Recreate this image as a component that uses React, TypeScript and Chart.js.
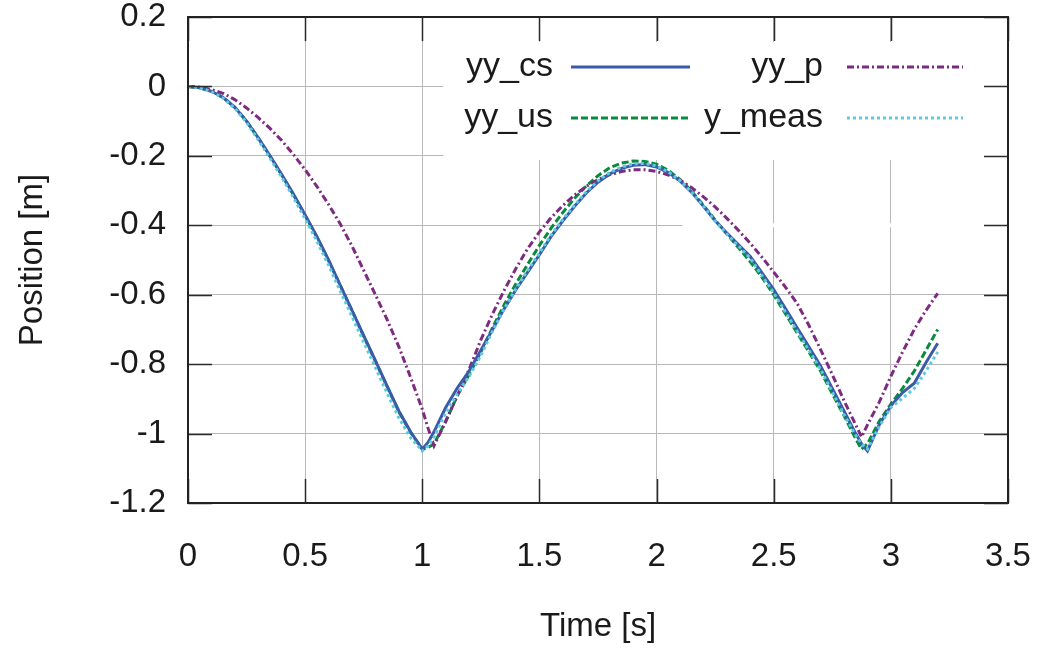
import React, { useEffect, useRef } from "react";
import { Chart, registerables } from "chart.js";

Chart.register(...registerables);

const times = [
  0, 0.05, 0.1, 0.15, 0.2, 0.25, 0.3, 0.35, 0.4, 0.45, 0.5, 0.55, 0.6, 0.65, 0.7, 0.75,
  0.8, 0.85, 0.9, 0.95, 1.0, 1.025, 1.05, 1.1, 1.15, 1.2, 1.25, 1.3, 1.35, 1.4, 1.45, 1.5,
  1.55, 1.6, 1.65, 1.7, 1.75, 1.8, 1.85, 1.9, 1.95, 2.0, 2.05, 2.1, 2.15, 2.2, 2.25, 2.3,
  2.35, 2.4, 2.45, 2.5, 2.55, 2.6, 2.65, 2.7, 2.75, 2.8, 2.85, 2.875, 2.9, 2.95, 3.0, 3.05,
  3.1, 3.15, 3.2,
];

const yyCs = [
  0, -0.004, -0.014, -0.032, -0.06, -0.1, -0.148, -0.2, -0.254, -0.31, -0.37, -0.432,
  -0.5, -0.573, -0.645, -0.718, -0.79, -0.863, -0.935, -0.995, -1.045, -1.025, -0.995,
  -0.925, -0.868, -0.82, -0.76, -0.7, -0.64, -0.585, -0.535, -0.485, -0.432, -0.387, -0.345,
  -0.307, -0.276, -0.252, -0.236, -0.227, -0.225, -0.232, -0.248, -0.272, -0.305, -0.345,
  -0.387, -0.422, -0.456, -0.49, -0.537, -0.585, -0.64, -0.695, -0.75, -0.805, -0.87,
  -0.935, -1.0, -1.03, -1.05, -0.975, -0.92, -0.882, -0.855, -0.795, -0.74,
];

const yyUs = [
  0, -0.004, -0.014, -0.032, -0.06, -0.1, -0.149, -0.201, -0.255, -0.312, -0.372, -0.434,
  -0.502, -0.574, -0.646, -0.72, -0.792, -0.865, -0.937, -0.997, -1.045, -1.04, -1.03,
  -0.965, -0.89, -0.83, -0.765, -0.695, -0.628, -0.568, -0.512, -0.458, -0.408, -0.363,
  -0.322, -0.287, -0.257, -0.234, -0.221, -0.215, -0.216, -0.224, -0.242, -0.268, -0.302,
  -0.342, -0.385, -0.425, -0.465, -0.505, -0.55, -0.6, -0.655, -0.71, -0.765, -0.82, -0.885,
  -0.948, -1.015, -1.045, -1.03, -0.965, -0.915, -0.87, -0.82, -0.76, -0.7,
];

const yyP = [
  0, -0.002, -0.009, -0.02, -0.038, -0.062, -0.09, -0.121, -0.156, -0.196, -0.24, -0.288,
  -0.34, -0.396, -0.46, -0.53, -0.6, -0.672, -0.75, -0.838, -0.93, -0.985, -1.035, -0.965,
  -0.89, -0.815, -0.73, -0.655, -0.587, -0.524, -0.467, -0.419, -0.378, -0.343, -0.313,
  -0.288, -0.268, -0.254, -0.245, -0.24, -0.24, -0.245, -0.255, -0.27, -0.292, -0.318,
  -0.347, -0.38, -0.415, -0.452, -0.492, -0.535, -0.578, -0.625, -0.688, -0.758, -0.83,
  -0.905, -0.975, -1.01, -0.975, -0.91, -0.835, -0.765, -0.7, -0.645, -0.596,
];

const yMeas = [
  0, -0.004, -0.015, -0.034, -0.063, -0.104, -0.154, -0.207, -0.262, -0.32, -0.382, -0.446,
  -0.515, -0.59, -0.663, -0.737, -0.81, -0.884, -0.955, -1.012, -1.05, -1.035, -1.01, -0.94,
  -0.885, -0.835, -0.775, -0.705, -0.64, -0.582, -0.53, -0.48, -0.428, -0.383, -0.342,
  -0.303, -0.272, -0.248, -0.232, -0.223, -0.222, -0.229, -0.246, -0.271, -0.305, -0.345,
  -0.388, -0.425, -0.46, -0.495, -0.545, -0.595, -0.65, -0.705, -0.76, -0.815, -0.88, -0.945,
  -1.005, -1.03, -1.045, -0.98, -0.925, -0.898, -0.87, -0.82, -0.765,
];

const seriesNames = ["yy_cs", "yy_us", "yy_p", "y_meas"];
const seriesColors = ["#3b5aa8", "#0b8a3e", "#7d2a80", "#5ccbe0"];
const seriesDashes: number[][] = [[], [7, 3], [7, 3, 2, 3], [3, 3]];

const FONT = "'Liberation Sans', Arial, Helvetica, sans-serif";
const TEXT = "#1a1a1a";

function toPoints(vals: number[]) {
  return times.map((t, i) => ({ x: t, y: vals[i] }));
}

const framePlugin = {
  id: "gnuframe",
  beforeDatasetsDraw(chart: any) {
    const { ctx, chartArea: a, scales } = chart;
    const x = scales.x;
    const y = scales.y;
    ctx.save();
    ctx.fillStyle = "#ffffff";
    const bx = x.getPixelForValue(1.09);
    const by1 = y.getPixelForValue(0.128);
    const by2 = y.getPixelForValue(-0.212);
    ctx.fillRect(bx, by1, a.right - bx, by2 - by1);
    const gx = x.getPixelForValue(2.11);
    const gy = y.getPixelForValue(-0.4);
    ctx.fillRect(gx, gy - 2, a.right - gx, 4);
    ctx.restore();
  },
  afterDatasetsDraw(chart: any) {
    const { ctx, chartArea: a, scales } = chart;
    const x = scales.x;
    const y = scales.y;
    const tl = 24;
    ctx.save();
    ctx.strokeStyle = "#2a2a2a";
    ctx.lineWidth = 1.5;
    ctx.setLineDash([]);
    ctx.beginPath();
    x.ticks.forEach((t: any) => {
      const px = Math.round(x.getPixelForValue(t.value)) + 0.5;
      ctx.moveTo(px, a.bottom);
      ctx.lineTo(px, a.bottom - tl);
      ctx.moveTo(px, a.top);
      ctx.lineTo(px, a.top + tl);
    });
    y.ticks.forEach((t: any) => {
      const py = Math.round(y.getPixelForValue(t.value)) + 0.5;
      ctx.moveTo(a.left, py);
      ctx.lineTo(a.left + tl, py);
      ctx.moveTo(a.right, py);
      ctx.lineTo(a.right - tl, py);
    });
    ctx.stroke();
    ctx.lineWidth = 2;
    ctx.strokeStyle = "#222";
    ctx.strokeRect(a.left, a.top, a.right - a.left, a.bottom - a.top);

    const items = [
      { ds: 0, textRight: 553, s0: 571, s1: 690, row: 0 },
      { ds: 2, textRight: 823, s0: 847, s1: 963, row: 0 },
      { ds: 1, textRight: 553, s0: 571, s1: 690, row: 1 },
      { ds: 3, textRight: 823, s0: 847, s1: 963, row: 1 },
    ];
    const rowY = [67, 118];
    ctx.font = `34px ${FONT}`;
    ctx.textAlign = "right";
    ctx.textBaseline = "middle";
    items.forEach((it) => {
      const ds = chart.data.datasets[it.ds];
      const yy = rowY[it.row];
      ctx.fillStyle = TEXT;
      ctx.fillText(ds.label, it.textRight, yy);
      ctx.strokeStyle = ds.borderColor;
      ctx.lineWidth = ds.borderWidth;
      ctx.setLineDash(ds.borderDash || []);
      ctx.beginPath();
      ctx.moveTo(it.s0, yy);
      ctx.lineTo(it.s1, yy);
      ctx.stroke();
    });
    ctx.restore();
  },
};

export default function App() {
  const ref = useRef<HTMLCanvasElement>(null);
  useEffect(() => {
    const all = [yyCs, yyUs, yyP, yMeas];
    const orders = [1, 3, 2, 0];
    const datasets = all.map((vals, i) => ({
      label: seriesNames[i],
      data: toPoints(vals),
      borderColor: seriesColors[i],
      backgroundColor: seriesColors[i],
      borderWidth: 3,
      borderDash: seriesDashes[i],
      pointRadius: 0,
      tension: 0,
      fill: false,
      order: orders[i],
    }));
    const chart = new Chart(ref.current as HTMLCanvasElement, {
      type: "line",
      data: { datasets },
      options: {
        animation: false,
        responsive: false,
        devicePixelRatio: 1,
        layout: { padding: { top: 17, right: 34, left: 0, bottom: 0 } },
        plugins: { legend: { display: false }, tooltip: { enabled: false } },
        scales: {
          x: {
            type: "linear",
            min: 0,
            max: 3.5,
            afterFit: (s: any) => {
              s.height = 152;
              s.paddingLeft = 0;
              s.paddingRight = 0;
            },
            ticks: {
              stepSize: 0.5,
              padding: 34,
              color: TEXT,
              font: { family: FONT, size: 33 },
              maxRotation: 0,
              callback: (v: any) => String(Math.round(Number(v) * 10) / 10),
            },
            grid: { color: "#b8b8b8", lineWidth: 1, drawTicks: false },
            border: { display: false },
            title: {
              display: true,
              text: "Time [s]",
              color: TEXT,
              font: { family: FONT, size: 33 },
              padding: { top: 0, bottom: 8 },
            },
          },
          y: {
            type: "linear",
            min: -1.2,
            max: 0.2,
            afterFit: (s: any) => {
              s.width = 188;
              s.paddingTop = 0;
              s.paddingBottom = 0;
            },
            ticks: {
              stepSize: 0.2,
              padding: 22,
              color: TEXT,
              font: { family: FONT, size: 33 },
              callback: (v: any) => String(Math.round(Number(v) * 10) / 10),
            },
            grid: { color: "#b8b8b8", lineWidth: 1, drawTicks: false },
            border: { display: false },
            title: {
              display: true,
              text: "Position [m]",
              color: TEXT,
              font: { family: FONT, size: 33 },
              padding: { top: 13, bottom: 0 },
            },
          },
        },
      },
      plugins: [framePlugin],
    } as any);
    return () => chart.destroy();
  }, []);
  return (
    <div style={{ position: "absolute", left: 0, top: 0, width: 1042, height: 655, background: "#fff" }}>
      <canvas ref={ref} width={1042} height={655} style={{ display: "block" }} />
    </div>
  );
}
